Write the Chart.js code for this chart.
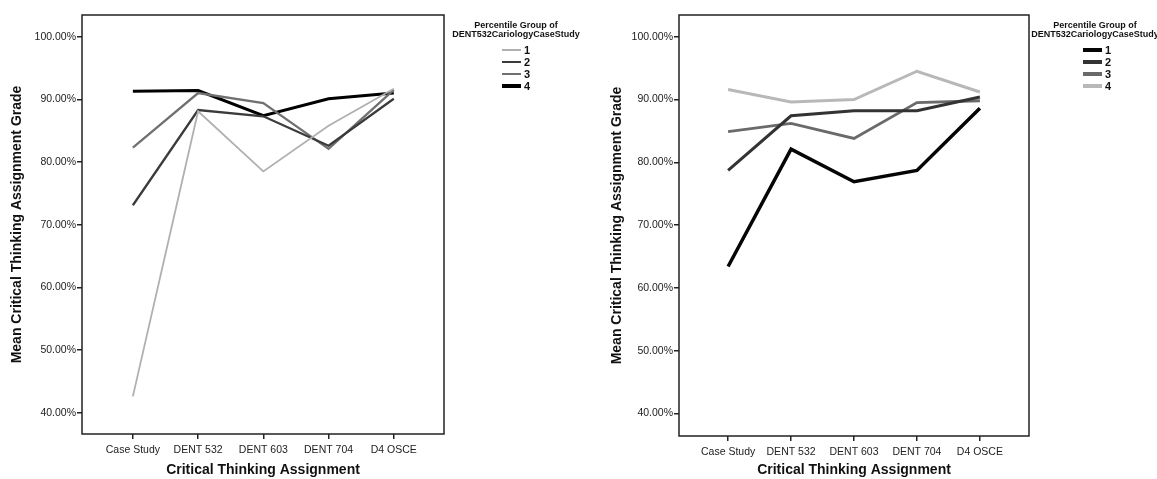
<!DOCTYPE html>
<html>
<head>
<meta charset="utf-8">
<script src="https://cdn.jsdelivr.net/npm/chart.js@4.4.1/dist/chart.umd.min.js"></script>
<style>
  html, body { margin: 0; padding: 0; background: #fff; }
  body { width: 1157px; height: 479px; position: relative; overflow: hidden; font-family: "Liberation Sans", Arial, sans-serif; }
  .box { position: absolute; top: 0; height: 479px; }
  .legend { position: absolute; color: #111; }
  .legend .title { font-weight: bold; font-size: 9px; line-height: 8.5px; text-align: center; white-space: nowrap; }
  .legend .items { position: absolute; top: 23px; }
  .legend .row { height: 12px; display: flex; align-items: center; font-weight: bold; font-size: 11px; }
  .legend .swatch { display: inline-block; width: 19px; margin-right: 3px; }
</style>
</head>
<body>

<div class="box" id="leftBox" style="left:0;width:600px"><canvas id="leftChart"></canvas></div>
<div class="box" id="rightBox" style="left:600px;width:557px"><canvas id="rightChart"></canvas></div>

<div class="legend" id="leftLegend" style="left:446px;top:21px;width:140px"></div>
<div class="legend" id="rightLegend" style="left:1025px;top:21px;width:140px"></div>

<script>
/* ---------------- DATA ---------------- */

const assignments = ["Case Study", "DENT 532", "DENT 603", "DENT 704", "D4 OSCE"];
const groups = ["1", "2", "3", "4"];
const yTicks = [40, 50, 60, 70, 80, 90, 100];

// left chart (mean grade %, by percentile group)
const leftGroup1 = [42.6, 88.1, 78.5, 85.8, 91.7];
const leftGroup2 = [73.1, 88.3, 87.3, 82.6, 90.1];
const leftGroup3 = [82.3, 91.0, 89.4, 82.1, 91.5];
const leftGroup4 = [91.3, 91.4, 87.4, 90.1, 91.0];

// right chart
const rightGroup1 = [63.4, 82.1, 76.9, 78.7, 88.6];
const rightGroup2 = [78.7, 87.4, 88.2, 88.2, 90.4];
const rightGroup3 = [84.9, 86.2, 83.8, 89.5, 89.8];
const rightGroup4 = [91.6, 89.6, 90.0, 94.5, 91.2];

const legendTitle = ["Percentile Group of", "DENT532CariologyCaseStudy"];
const yTitle = "Mean Critical Thinking Assignment Grade";
const xTitle = "Critical Thinking Assignment";

/* ---------------- HELPERS ---------------- */

Chart.defaults.font.family = '"Liberation Sans", Arial, sans-serif';
Chart.defaults.color = "#222";

const framePlugin = {
  id: "frame",
  afterDraw(chart) {
    const { ctx, chartArea: a } = chart;
    ctx.save();
    ctx.strokeStyle = "#222";
    ctx.lineWidth = 1.5;
    ctx.strokeRect(a.left, a.top, a.right - a.left, a.bottom - a.top);
    ctx.restore();
  }
};

function series(label, values, color, width) {
  return {
    label,
    data: values.map((y, i) => ({ x: i, y })),
    borderColor: color,
    backgroundColor: color,
    borderWidth: width,
    pointRadius: 0,
    tension: 0,
    borderJoinStyle: "miter",
    borderCapStyle: "butt"
  };
}

function makeChart(canvas, datasets, lay) {
  const tickGrid = { display: true, drawOnChartArea: false, drawTicks: true, tickLength: 5, color: "#222", lineWidth: 1.5 };
  return new Chart(canvas, {
    type: "line",
    data: { datasets },
    plugins: [framePlugin],
    options: {
      responsive: true,
      maintainAspectRatio: false,
      animation: false,
      layout: { padding: { left: 0, top: 15, right: lay.padRight, bottom: 0 } },
      plugins: { legend: { display: false }, tooltip: { enabled: false } },
      scales: {
        x: {
          type: "linear",
          min: lay.xMin,
          max: lay.xMax,
          grid: tickGrid,
          border: { display: false },
          afterBuildTicks: s => { s.ticks = assignments.map((_, i) => ({ value: i })); },
          afterFit: s => { s.height = lay.xHeight; },
          ticks: {
            autoSkip: false, maxRotation: 0, padding: 5,
            font: { size: 10.5 }, color: "#222",
            callback: v => assignments[v]
          },
          title: { display: true, text: xTitle, font: { size: 14, weight: "bold" }, color: "#111", padding: { top: 3, bottom: 0 } }
        },
        y: {
          min: lay.yMin,
          max: lay.yMax,
          grid: tickGrid,
          border: { display: false },
          afterBuildTicks: s => { s.ticks = yTicks.map(v => ({ value: v })); },
          afterFit: s => { s.width = lay.yWidth; },
          ticks: { padding: 1, font: { size: 10.5 }, color: "#222", callback: v => v.toFixed(2) + "%" },
          title: { display: true, text: yTitle, font: { size: 14, weight: "bold" }, color: "#111", padding: { top: 9, bottom: 0 } }
        }
      }
    }
  });
}

function drawLegend(el, datasets) {
  let html = `<div class="title">${legendTitle.join("<br>")}</div><div class="items" style="left:${el.dataset.items}px">`;
  datasets.forEach(d => {
    html += `<div class="row"><span class="swatch" style="height:${d.borderWidth + 0.5}px;background:${d.borderColor}"></span>${d.label}</div>`;
  });
  el.innerHTML = html + "</div>";
}

/* ---------------- CHARTS ---------------- */

const leftSets = [
  series(groups[0], leftGroup1, "#b0b0b0", 1.8),
  series(groups[1], leftGroup2, "#3b3b3b", 2.3),
  series(groups[2], leftGroup3, "#707070", 2.3),
  series(groups[3], leftGroup4, "#000000", 3)
];

const rightSets = [
  series(groups[0], rightGroup1, "#050505", 3.5),
  series(groups[1], rightGroup2, "#333333", 3),
  series(groups[2], rightGroup3, "#6a6a6a", 2.8),
  series(groups[3], rightGroup4, "#b8b8b8", 3)
];

makeChart(document.getElementById("leftChart"), leftSets,
  { padRight: 156, yWidth: 82, xHeight: 45, xMin: -0.78, xMax: 4.77, yMin: 36.6, yMax: 103.46 });
makeChart(document.getElementById("rightChart"), rightSets,
  { padRight: 128, yWidth: 79, xHeight: 43, xMin: -0.78, xMax: 4.78, yMin: 36.4, yMax: 103.46 });

const leftLegend = document.getElementById("leftLegend");
leftLegend.dataset.items = 56;
drawLegend(leftLegend, leftSets);

const rightLegend = document.getElementById("rightLegend");
rightLegend.dataset.items = 58;
drawLegend(rightLegend, rightSets);
</script>
</body>
</html>
